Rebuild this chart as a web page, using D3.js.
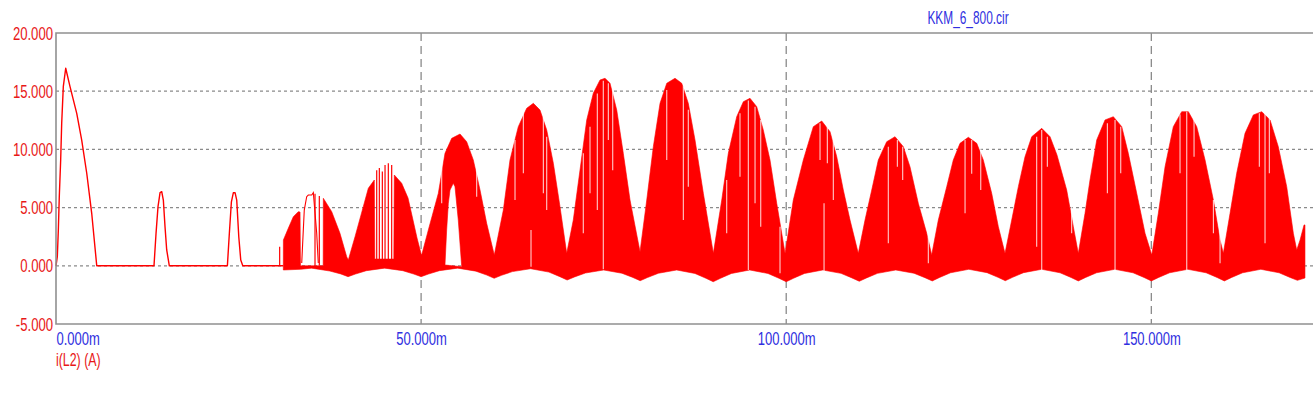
<!DOCTYPE html>
<html><head><meta charset="utf-8">
<script src="https://cdn.jsdelivr.net/npm/d3@7"></script>
<style>html,body{margin:0;padding:0;background:#fff;overflow:hidden}svg{display:block}</style>
</head><body><svg id="c" width="1313" height="396"></svg>
<script>
// ---- data (time in ms, current in A) ----
const title = "KKM_6_800.cir";
const seriesLabel = "i(L2) (A)";
const xTicks = [0, 50, 100, 150];
const yTicks = [-5, 0, 5, 10, 15, 20];

// start-up waveform drawn as a plain trace
const lineT = [0,0.18,0.32,0.45,0.64,0.78,1.0,1.33,1.92,2.84,3.52,4.21,4.89,5.58,13.42,13.70,13.97,14.25,14.48,14.70,14.93,15.16,15.52,23.47,23.74,24.02,24.29,24.52,24.75,25.03,25.30,25.58,31.13];
const lineV = [0,0.78,3.08,5.94,9.09,12.24,15.39,16.97,15.39,13.10,10.80,7.95,4.51,0,0,2.79,5.08,6.28,6.37,5.65,3.36,1.36,0,0,2.79,5.50,6.28,6.28,5.65,2.50,0.50,0,0];

// thin outline hump inside the first switching burst
const outlineT = [33.65,34.00,34.33,34.55,35.02,35.24,35.70,35.92];
const outlineV = [0.24,4.79,5.94,6.08,6.08,6.28,2.82,0.24];

// upper envelope of the switching ripple
const upperT = [31.13,31.14,31.81,32.50,33.18,33.42,33.48,36.59,36.61,37.76,38.89,39.81,40.03,40.95,42.08,42.77,43.59,43.66,46.26,46.33,47.34,48.21,48.89,49.44,50.06,
  50.99,52.36,53.27,54.19,55.33,56.24,57.15,58.07,58.98,60.02,
  61.26,62.17,63.31,64.46,65.37,66.28,67.20,68.11,69.02,69.94,
  70.84,71.76,72.68,73.58,74.50,75.19,75.87,76.79,77.69,78.61,79.98,
  80.90,81.80,82.72,83.64,84.77,85.69,86.59,87.51,88.65,90.02,
  91.17,92.07,93.22,94.13,95.04,95.96,96.86,97.78,98.70,99.84,
  100.97,102.34,103.71,104.86,106.00,106.92,107.82,108.74,109.87,
  110.79,111.71,112.61,113.76,114.90,116.04,116.95,118.09,119.24,119.92,
  120.83,121.98,122.88,123.80,124.94,126.09,126.99,128.14,129.05,129.96,
  130.88,131.79,132.70,133.62,134.99,136.13,137.08,138.41,139.32,140.00,
  140.92,141.60,142.52,143.66,144.80,145.95,146.85,148.00,149.14,150.06,
  150.96,151.88,153.01,154.16,155.07,156.22,157.36,158.50,159.41,159.86,
  160.78,161.69,162.83,163.97,165.12,166.26,167.39,168.54,169.45,169.91,170.37,170.91,171.04];
const upperV = [0,2.22,3.22,4.22,4.65,4.62,0,0,5.80,4.65,2.79,0.78,0.50,2.50,5.08,6.66,7.37,0.58,0.58,7.80,7.09,5.82,3.93,2.39,0.88,
  3.08,6.23,9.66,10.95,11.32,10.66,9.09,6.51,3.65,0.93,
  4.79,9.09,11.95,13.53,13.96,13.38,11.67,8.81,5.08,1.07,
  3.93,8.23,12.53,14.82,15.96,16.11,15.68,13.38,9.66,5.65,1.21,
  5.65,10.23,13.96,15.68,16.11,15.68,13.96,10.81,6.23,1.07,
  5.65,9.66,12.81,14.10,14.39,13.67,11.67,9.09,5.37,1.07,
  5.65,9.09,11.95,12.44,11.52,9.37,6.51,3.93,1.07,
  3.93,6.51,9.09,10.66,11.09,10.23,8.51,5.37,2.79,0.93,
  3.93,6.80,9.09,10.52,11.04,10.52,9.09,6.23,3.36,1.07,
  3.93,6.80,9.37,11.09,11.81,11.09,9.52,6.51,3.36,1.07,
  4.51,7.37,10.81,12.53,12.81,11.95,9.66,6.23,2.79,0.93,
  4.51,8.51,11.95,13.24,13.24,11.95,9.09,5.65,2.22,1.07,
  4.51,7.95,11.38,12.96,13.24,12.53,10.23,6.80,2.79,1.36,2.22,3.51,3.51];

// lower envelope of the switching ripple
const lowerT = [31.13,33.5,35,37.5,39,40,41,42.5,45,47.5,49,50,51,52.5,55,57.5,59,60,61,62.5,65,67.5,69,70,
  71,72.5,75,77.5,79,80,81,82.5,85,87.5,89,90,91,92.5,95,97.5,99,100,101,102.5,105,107.5,109,110,
  111,112.5,115,117.5,119,120,121,122.5,125,127.5,129,130,131,132.5,135,137.5,139,140,
  141,142.5,145,147.5,149,150,151,152.5,155,157.5,159,160,161,162.5,165,167.5,169,170,171.04];
const lowerV = [-0.36,-0.30,-0.20,-0.45,-0.70,-0.93,-0.71,-0.42,-0.20,-0.42,-0.71,-0.93,-0.71,-0.42,-0.20,-0.46,-0.80,-1.07,-0.82,-0.50,-0.25,-0.54,-0.93,-1.22,
  -0.96,-0.62,-0.36,-0.64,-1.00,-1.28,-1.01,-0.64,-0.36,-0.66,-1.07,-1.37,-1.07,-0.66,-0.36,-0.66,-1.07,-1.37,-1.07,-0.66,-0.36,-0.65,-1.04,-1.33,
  -1.04,-0.65,-0.36,-0.64,-1.02,-1.30,-1.00,-0.60,-0.30,-0.59,-0.99,-1.28,-0.99,-0.59,-0.30,-0.60,-1.00,-1.30,
  -1.00,-0.60,-0.30,-0.60,-1.00,-1.30,-1.00,-0.60,-0.30,-0.60,-1.00,-1.30,-1.00,-0.60,-0.30,-0.60,-1.00,-1.25,-1.05];

// white hole inside the 55 ms lobe
const holeT = [53.27,53.50,53.73,53.96,54.41,54.64,55.09,55.56];
const holeV = [0.07,3.08,5.37,6.51,7.09,6.80,3.93,-0.08];

// isolated red spikes (from 0 A up to the top value)
const spikeT = [30.63,35.47,36.06,43.92,44.28,44.69,45.06,45.51,45.97];
const spikeTop = [1.64,6.20,6.00,8.20,8.40,8.10,8.66,8.80,8.66];

// thin white gaps inside the filled ripple
const gapT = [74.95,74.13,75.64,76.24,73.13,83.64,85.91,86.59,94.81,93.67,95.73,96.51,99.15,67.20,91.85,72.21,
  105.18,104.63,105.63,106.45,113.98,115.22,115.95,124.49,125.40,126.64,134.99,135.76,134.30,119.46,
  145.03,143.98,145.81,154.85,153.93,155.85,165.57,164.79,166.16,159.41,139.09,158.50,
  65.05,52.82,57.61,62.86,64.00,66.74];
const gapTop = [15.9,14.8,15.68,15.1,11.95,15.1,15.4,13.4,14.2,13.1,13.67,12.53,3.36,11.09,7.37,9.66,
  5.37,12.24,12.24,11.38,10.23,10.81,10.23,10.81,10.81,10.23,11.67,11.09,11.09,2.79,
  12.53,12.24,11.95,13.24,13.0,12.81,13.1,13.1,12.8,4.22,7.95,5.65,
  3.08,8.81,9.09,10.81,13.1,12.81];
const gapBottom = [-0.3,4.8,10.8,8.2,6.23,9.1,3.93,6.8,-0.36,7.65,5.37,3.36,-0.64,4.79,2.79,2.79,
  -0.5,9.09,8.81,5.65,1.93,8.51,7.37,4.51,7.9,6.51,-0.36,8.51,1.64,0.21,
  -0.36,6.23,7.95,-0.36,7.95,9.37,1.93,8.51,7.95,0.21,2.79,2.79,
  -0.08,5.37,5.94,5.65,7.95,6.23];

// ---- drawing ----
const W = 1313, H = 396;
const L = 56, R = 1313, T = 33, B = 324;
const svg = d3.select("#c");
const x = d3.scaleLinear().domain([0, 172.14]).range([L, R]);
const y = d3.scaleLinear().domain([-5, 20]).range([B, T]);
const RED = "#ff0000", TXT_RED = "#e81818", BLUE = "#2f2fe0", GRID = "#8a8a8a";
const FONT = "'Liberation Sans', Arial, sans-serif";

function squish(sel, k) {
  sel.each(function () {
    const w = this.getComputedTextLength();
    this.setAttribute("textLength", (w * k).toFixed(2));
    this.setAttribute("lengthAdjust", "spacingAndGlyphs");
  });
}

// grid
const grid = svg.append("g");
grid.selectAll("line.h").data(yTicks.filter(d => d > -5 && d < 20)).join("line")
  .attr("x1", L).attr("x2", R).attr("y1", d => y(d)).attr("y2", d => y(d))
  .attr("stroke", GRID).attr("stroke-width", 1.3).attr("stroke-dasharray", "3,3");
grid.selectAll("line.v").data(xTicks.filter(d => d > 0)).join("line")
  .attr("x1", d => x(d)).attr("x2", d => x(d)).attr("y1", T).attr("y2", B)
  .attr("stroke", GRID).attr("stroke-width", 1.3).attr("stroke-dasharray", "8,5");

const line = d3.line().x(d => x(d[0])).y(d => y(d[1]));
const plot = svg.append("g");

// filled ripple envelope with hole
const upperPts = upperT.map((t, i) => [t, upperV[i]]);
const lowerPts = lowerT.map((t, i) => [t, lowerV[i]]).reverse();
const holePts = holeT.map((t, i) => [t, holeV[i]]);
plot.append("path")
  .attr("d", line(upperPts.concat(lowerPts)) + "Z" + line(holePts) + "Z")
  .attr("fill", RED).attr("fill-rule", "evenodd")
  .attr("stroke", RED).attr("stroke-width", 0.6).attr("stroke-linejoin", "round");

// white gaps
plot.selectAll("line.gap").data(gapT.map((t, i) => [t, gapTop[i], gapBottom[i]])).join("line")
  .attr("x1", d => x(d[0])).attr("x2", d => x(d[0]))
  .attr("y1", d => y(d[1])).attr("y2", d => y(d[2]))
  .attr("stroke", "#fff").attr("stroke-opacity", 0.8).attr("stroke-width", 1.1);

// start-up trace
plot.append("path").attr("d", line(lineT.map((t, i) => [t, lineV[i]])))
  .attr("fill", "none").attr("stroke", RED).attr("stroke-width", 1.4).attr("stroke-linejoin", "round");
plot.append("path").attr("d", line(outlineT.map((t, i) => [t, outlineV[i]])))
  .attr("fill", "none").attr("stroke", RED).attr("stroke-width", 1.1);
plot.selectAll("line.spike").data(spikeT.map((t, i) => [t, spikeTop[i]])).join("line")
  .attr("x1", d => x(d[0])).attr("x2", d => x(d[0]))
  .attr("y1", y(0)).attr("y2", d => y(d[1]))
  .attr("stroke", RED).attr("stroke-width", 1.2);

// frame
const frame = svg.append("g").attr("stroke", "#909090").attr("stroke-width", 1.6).attr("fill", "none");
frame.append("path").attr("d", `M${R},${T}H${L}V${B}H${R}`);

// axes
const yAxis = svg.append("g").attr("transform", `translate(${L},0)`)
  .call(d3.axisLeft(y).tickValues(yTicks).tickSize(0).tickPadding(3).tickFormat(d => d.toFixed(3)));
yAxis.select(".domain").remove();
yAxis.selectAll("text").attr("fill", TXT_RED).attr("font-family", FONT).attr("font-size", 19);
squish(yAxis.selectAll("text"), 0.69);

const xAxis = svg.append("g").attr("transform", `translate(0,${B})`)
  .call(d3.axisBottom(x).tickValues(xTicks).tickSize(0).tickPadding(8).tickFormat(d => d.toFixed(3) + "m"));
xAxis.select(".domain").remove();
xAxis.selectAll("text").attr("fill", BLUE).attr("font-family", FONT).attr("font-size", 19)
  .attr("text-anchor", d => d === 0 ? "start" : "middle");
squish(xAxis.selectAll("text"), 0.685);

// labels
const lab = svg.append("text").attr("x", L).attr("y", 365.7).attr("fill", TXT_RED)
  .attr("font-family", FONT).attr("font-size", 19).text(seriesLabel);
squish(lab, 0.65);
const ttl = svg.append("text").attr("x", 968).attr("y", 24.3).attr("text-anchor", "middle").attr("fill", BLUE)
  .attr("font-family", FONT).attr("font-size", 19).text(title);
squish(ttl, 0.625);
</script>
</body></html>
